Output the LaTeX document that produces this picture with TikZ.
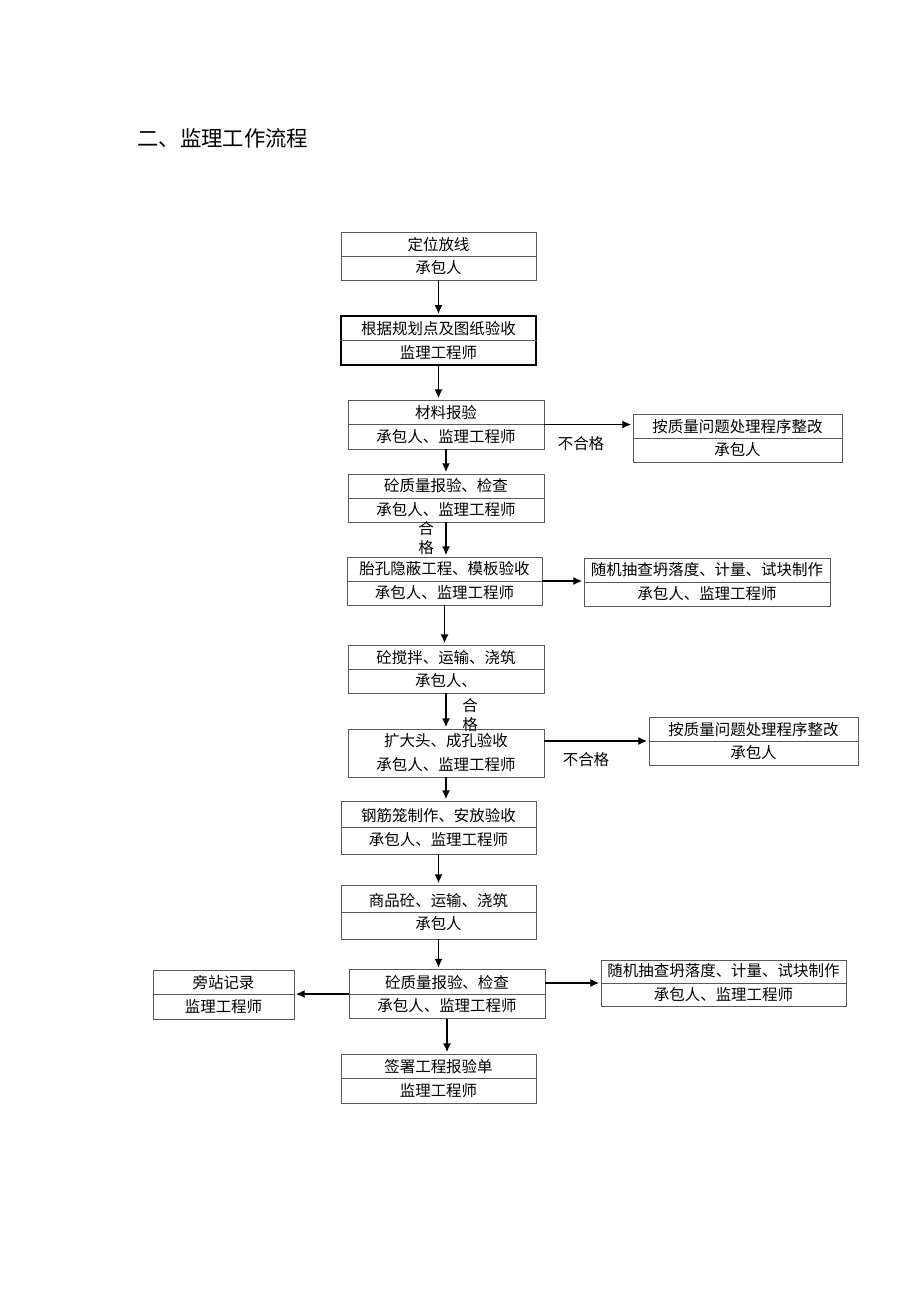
\documentclass[tikz,border=0pt]{standalone}
\usepackage{fontspec}
\setmainfont{Noto Sans CJK SC}
\usetikzlibrary{positioning, arrows.meta}

\tikzset{
  box/.style={draw=black!65, line width=.6pt, inner sep=0pt, align=center,
    minimum height=1.2cm, font=\fontsize{11pt}{17pt}\selectfont},
  lbl/.style={inner sep=0pt, align=center, font=\fontsize{11pt}{14pt}\selectfont},
  arr/.style={-{Latex[length=2.2mm, width=2mm]}, line width=.9pt, shorten >=1pt},
}

\begin{document}
\begin{tikzpicture}[x=0.025cm, y=-0.025cm]
\useasboundingbox (0,0) rectangle (920,1301);
\node[anchor=west, inner sep=0pt, font=\fontsize{15.2pt}{18pt}\selectfont] (title) at (137,138) {二、监理工作流程};

% main column
\node[box, minimum width=4.875cm] (b1) at (438.5,256) {定位放线\\承包人};
\node[box, minimum width=4.875cm, minimum height=1.225cm, draw=black, line width=1.1pt] (b2) at (438.5,340.5) {根据规划点及图纸验收\\监理工程师};
\node[box, minimum width=4.9cm, minimum height=1.225cm] (b3) at (446,424.5) {材料报验\\承包人、监理工程师};
\node[box, minimum width=4.9cm] (b5) at (446,498) {砼质量报验、检查\\承包人、监理工程师};
\node[box, minimum width=4.875cm] (b6) at (444.5,581) {胎孔隐蔽工程、模板验收\\承包人、监理工程师};
\node[box, minimum width=4.9cm] (b8) at (446,669) {砼搅拌、运输、浇筑\\承包人、};
\node[box, minimum width=4.9cm] (b9) at (446,753) {扩大头、成孔验收\\承包人、监理工程师};
\node[box, minimum width=4.875cm, minimum height=1.325cm] (b11) at (438.5,827.5) {钢筋笼制作、安放验收\\承包人、监理工程师};
\node[box, minimum width=4.875cm, minimum height=1.35cm] (b12) at (438.5,912) {商品砼、运输、浇筑\\承包人};
\node[box, minimum width=4.9cm, minimum height=1.225cm] (b13) at (447,994) {砼质量报验、检查\\承包人、监理工程师};
\node[box, minimum width=4.875cm, minimum height=1.225cm] (b16) at (438.5,1078.5) {签署工程报验单\\监理工程师};

% side boxes
\node[box, minimum width=5.225cm] (b4) at (737.5,438) {按质量问题处理程序整改\\承包人};
\node[box, minimum width=6.15cm] (b7) at (707,582) {随机抽查坍落度、计量、试块制作\\承包人、监理工程师};
\node[box, minimum width=5.225cm] (b10) at (753.5,741) {按质量问题处理程序整改\\承包人};
\node[box, minimum width=3.525cm, minimum height=1.225cm] (b14) at (223.5,994.5) {旁站记录\\监理工程师};
\node[box, minimum width=6.125cm, minimum height=1.15cm] (b15) at (723.5,983) {随机抽查坍落度、计量、试块制作\\承包人、监理工程师};

\foreach \n in {b1,b2,b3,b4,b5,b6,b7,b8,b10,b11,b12,b13,b14,b15,b16}
  \draw[black!65, line width=.6pt] (\n.west) -- (\n.east);

% labels
\node[lbl] (ng1) at (581,444) {不合格};
\node[lbl] (ok1) at (426,538) {合\\格};
\node[lbl] (ok2) at (470,715) {合\\格};
\node[lbl] (ng2) at (586,760) {不合格};

% arrows
\draw[arr] (b1) -- (b2);
\draw[arr] (b2.south) -- (b2.south |- b3.north);
\draw[arr] (b3.east) -- (b3.east -| b4.west);
\draw[arr] (b3) -- (b5);
\draw[arr] (b5.south) -- (b5.south |- b6.north);
\draw[arr] (b6.east) -- (b6.east -| b7.west);
\draw[arr] (b6.south) -- (b6.south |- b8.north);
\draw[arr] (b8.south) -- (b8.south |- b9.north);
\draw[arr] (b9.east |- b10.west) -- (b10.west);
\draw[arr] (b9.south) -- (b9.south |- b11.north);
\draw[arr] (b11) -- (b12);
\draw[arr] (b12.south) -- (b12.south |- b13.north);
\draw[arr] (b13.west) -- (b13.west -| b14.east);
\draw[arr] (b13.east |- b15.west) -- (b15.west);
\draw[arr] (b13.south) -- (b13.south |- b16.north);
\end{tikzpicture}
\end{document}
